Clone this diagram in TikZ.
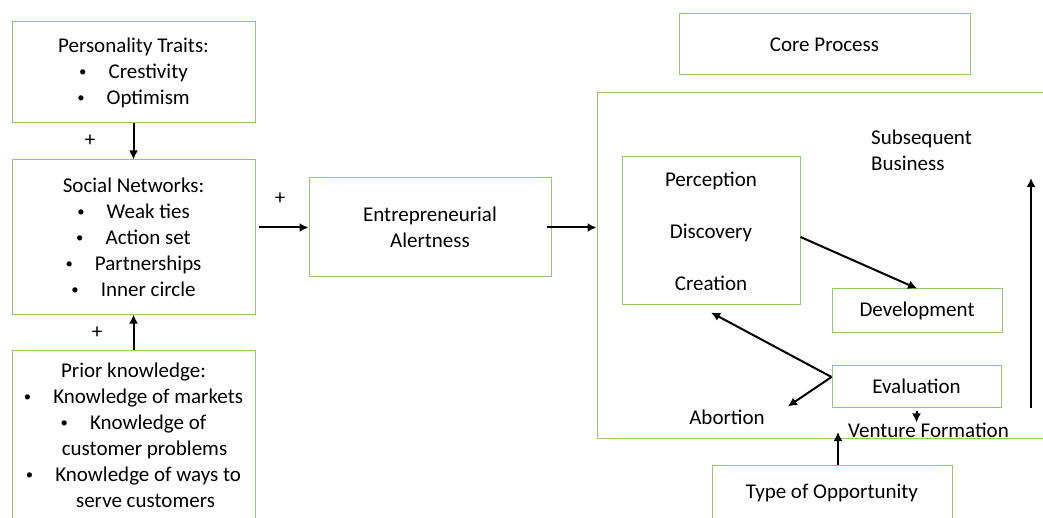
\documentclass[tikz,border=0pt]{standalone}
\usepackage{fontspec}
\setmainfont{Carlito}
\usetikzlibrary{arrows.meta}
\definecolor{boxgreen}{RGB}{146,200,110}
\newcommand{\bul}{\raisebox{0.15ex}{\scalebox{0.7}{\textbullet}}\hspace{1.05em}}

\begin{document}
\begin{tikzpicture}[x=1pt,y=-1pt,
  font=\fontsize{21}{26}\selectfont,
  box/.style={draw=boxgreen,line width=1pt,inner sep=0pt,align=center},
  arr/.style={line width=2pt,-{Latex[length=9pt,width=9pt]}},
  lbl/.style={inner sep=0pt}]
\clip (0,0) rectangle (1043,518);
\fill[white] (0,0) rectangle (1043,518);

% Antecedents
\node[box,minimum width=243,minimum height=101] (pers) at (133.5,72.5)
  {Personality Traits:\\ \bul Crestivity\\ \bul Optimism};
\node[box,minimum width=243,minimum height=154] (soc) at (133.5,237)
  {Social Networks:\\ \bul Weak ties\\ \bul Action set\\
   \bul Partnerships\\ \bul Inner circle};
\node[box,minimum width=243,minimum height=170] (prior) at (133.5,435)
  {Prior knowledge:\\ \bul Knowledge of markets\\ \bul Knowledge of\\
   \hspace*{22pt}customer problems\\ \bul Knowledge of ways to\\ \hspace*{24pt}serve customers};
\node[box,minimum width=242,minimum height=99] (alert) at (430,227.5)
  {Entrepreneurial\\ Alertness};

% Plus signs
\node[lbl] (p1) at (90,141) {+};
\node[lbl] (p2) at (280,199) {+};
\node[lbl] (p3) at (97,333) {+};

% Core process
\node[box,minimum width=291,minimum height=61] (core) at (824.5,44.5) {Core Process};
\node[box,minimum width=463,minimum height=345] (frame) at (828.5,265.5) {};
\node[box,minimum width=178,minimum height=148] (perc) at (711,231)
  {Perception\\[26pt] Discovery\\[26pt] Creation};
\node[box,minimum width=170,minimum height=43] (dev) at (917,310.5) {Development};
\node[box,minimum width=169,minimum height=42] (eval) at (916.5,386) {Evaluation};
\node[lbl,anchor=west,align=left] (subs) at (871,150) {Subsequent\\ Business};
\node[lbl] (abort) at (727,417) {Abortion};
\node[lbl] (vent) at (928.5,430) {Venture Formation};
\node[box,minimum width=240,minimum height=55] (type) at (832,492.5) {Type of Opportunity};
\coordinate (up1) at (1031,408);
\coordinate (up2) at (1031,178);
\coordinate (vf) at (838,432);

% Arrows
\draw[arr] (pers.south) -- (soc.north);
\draw[arr] (prior.north) -- (soc.south);
\draw[arr] ([xshift=3pt]soc.east |- alert.west) -- (alert.west);
\draw[arr] ([xshift=-5pt]alert.east) -- (frame.west |- alert.east);
\draw[arr] ([yshift=-6pt]perc.east) -- (dev.north);
\draw[arr] ([yshift=9pt]eval.west) -- ([yshift=-7pt]perc.south);
\draw[arr] ([yshift=9pt]eval.west) -- ([xshift=23pt,yshift=3pt]abort.north east);
\draw[arr] ([yshift=-3pt]eval.south) -- (eval.south |- vent.north);
\draw[arr] ([xshift=6pt]type.north) -- (vf);
\draw[arr] (up1) -- (up2);
\end{tikzpicture}
\end{document}
